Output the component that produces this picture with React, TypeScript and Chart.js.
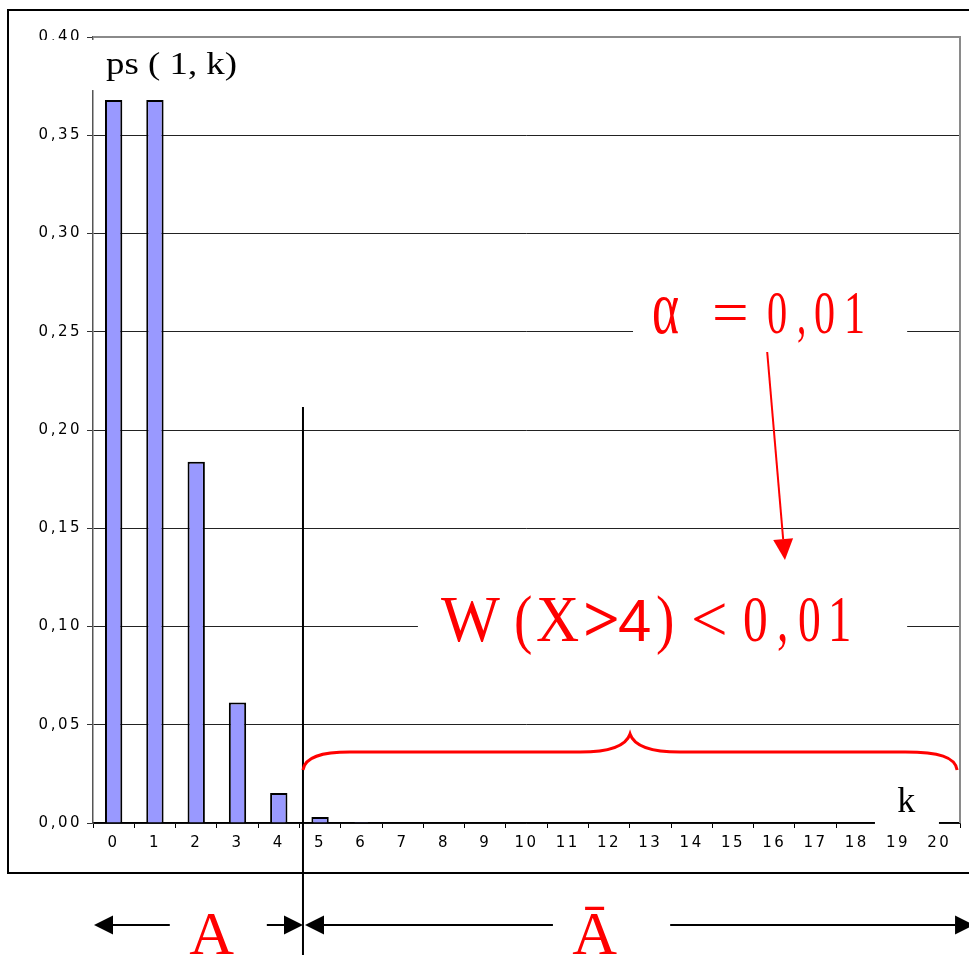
import React, { useEffect, useRef } from "react";
import { Chart, registerables } from "chart.js";

Chart.register(...registerables);

// ---- data ----
const categories = [
  "0", "1", "2", "3", "4", "5", "6", "7", "8", "9", "10",
  "11", "12", "13", "14", "15", "16", "17", "18", "19", "20",
];
const probabilities = [
  0.3679, 0.3679, 0.1839, 0.0613, 0.0153, 0.0031, 0.0005, 0, 0, 0, 0,
  0, 0, 0, 0, 0, 0, 0, 0, 0, 0,
];
const yMin = 0;
const yMax = 0.4;
const yStep = 0.05;

// ---- annotation anchors (category index, probability) ----
const CUT = 4.586; // boundary between A and not-A
const CUT_TOP = 0.2117;
const BRACE_END = 0.027;
const BRACE_FLAT = 0.0361;
const BRACE_TIP = 0.0453;
const BRACE_RIGHT = 20.43;

const SERIF = '"Liberation Serif", "Times New Roman", serif';
const SANS = '"Liberation Sans", Arial, sans-serif';

type Piece = [string, number, string, number];

const alphaRun: Piece[] = [
  ["α", -2, `76px ${SERIF}`, 0.68],
  ["=", 58, `62px ${SERIF}`, 1.05],
  ["0", 113, `62px ${SERIF}`, 0.65],
  [",", 143, `62px ${SERIF}`, 0.6],
  ["0", 160, `62px ${SERIF}`, 0.68],
  ["1", 190, `62px ${SERIF}`, 0.68],
];

const wRun: Piece[] = [
  ["W", 0, `65px ${SERIF}`, 0.96],
  ["(", 73, `65px ${SERIF}`, 0.85],
  ["X", 95, `65px ${SERIF}`, 0.92],
  [">", 142, `bold 65px ${SERIF}`, 1.0],
  ["4", 177, `60px ${SANS}`, 1.0],
  [")", 215, `65px ${SERIF}`, 0.85],
  ["<", 250, `65px ${SERIF}`, 1.0],
  ["0", 302, `65px ${SERIF}`, 0.76],
  [",", 336, `65px ${SERIF}`, 0.7],
  ["0", 357, `65px ${SERIF}`, 0.7],
  ["1", 387, `65px ${SERIF}`, 0.72],
];

const fmt = (v: number) => v.toFixed(2).replace(".", ",");

const annotations = {
  id: "annotations",
  beforeDraw(chart: any) {
    (chart.ctx as any).letterSpacing = "2.5px";
  },
  afterDraw(chart: any) {
    const ctx = chart.ctx as CanvasRenderingContext2D;
    (ctx as any).letterSpacing = "0px";
    ctx.save();
    const xs = chart.scales.x;
    const ys = chart.scales.y;
    const X = (i: number) => xs.getPixelForValue(i);
    const Y = (v: number) => ys.getPixelForValue(v);
    const { left, right, top, bottom } = chart.chartArea;
    const H = chart.height;
    const W = chart.width;

    // plot area border (top & right)
    ctx.strokeStyle = "#8a8a8a";
    ctx.lineWidth = 2;
    ctx.beginPath();
    ctx.moveTo(left, top);
    ctx.lineTo(right, top);
    ctx.lineTo(right, bottom);
    ctx.stroke();

    // outer chart frame
    const fL = 8, fT = 10, fB = 873;
    ctx.strokeStyle = "#000";
    ctx.lineWidth = 2;
    ctx.beginPath();
    ctx.moveTo(W, fT);
    ctx.lineTo(fL, fT);
    ctx.lineTo(fL, fB);
    ctx.lineTo(W, fB);
    ctx.stroke();

    // white masks behind labels
    ctx.fillStyle = "#fff";
    const mask = (i1: number, i2: number, v1: number, v2: number) =>
      ctx.fillRect(X(i1), Y(v1), X(i2) - X(i1), Y(v2) - Y(v1));
    mask(-2.03, 3.18, 0.3985, 0.373);
    mask(12.58, 19.22, 0.2712, 0.2346);
    mask(7.37, 19.22, 0.1186, 0.0768);
    mask(18.44, 19.99, 0.0219, -0.0046);

    // ps(1,k) label
    ctx.fillStyle = "#000";
    ctx.textAlign = "left";
    ctx.textBaseline = "alphabetic";
    ctx.font = `31px ${SERIF}`;
    {
      const t = "ps ( 1, k)";
      const w = ctx.measureText(t).width;
      ctx.save();
      ctx.translate(X(-0.185), Y(0.3812));
      ctx.scale(131 / w, 1);
      ctx.fillText(t, 0, 0);
      ctx.restore();
    }
    // k label
    ctx.font = `36px ${SERIF}`;
    ctx.fillText("k", X(18.98), Y(0.0056));

    // cut line
    ctx.strokeStyle = "#000";
    ctx.lineWidth = 2;
    ctx.beginPath();
    ctx.moveTo(X(CUT), Y(CUT_TOP));
    ctx.lineTo(X(CUT), H);
    ctx.stroke();

    // brace
    const x1 = X(CUT);
    const x2 = X(BRACE_RIGHT);
    const mid = (x1 + x2) / 2;
    const yE = Y(BRACE_END);
    const yF = Y(BRACE_FLAT);
    const yT = Y(BRACE_TIP);
    ctx.strokeStyle = "#ff0000";
    ctx.lineWidth = 3;
    ctx.beginPath();
    ctx.moveTo(x1, yE);
    ctx.bezierCurveTo(x1 + 2, yF + 5, x1 + 18, yF, x1 + 47, yF);
    ctx.lineTo(mid - 50, yF);
    ctx.bezierCurveTo(mid - 20, yF, mid - 4, yF - 6, mid, yT);
    ctx.bezierCurveTo(mid + 4, yF - 6, mid + 20, yF, mid + 50, yF);
    ctx.lineTo(x2 - 52, yF);
    ctx.bezierCurveTo(x2 - 18, yF, x2 - 2, yF + 5, x2, yE);
    ctx.stroke();

    // red arrow
    {
      const ax = X(15.83), ay = Y(0.2397);
      const bx = X(16.26), by = Y(0.1338);
      const ang = Math.atan2(by - ay, bx - ax);
      const hl = 21, hw = 10;
      const bx0 = bx - hl * Math.cos(ang);
      const by0 = by - hl * Math.sin(ang);
      ctx.strokeStyle = "#ff0000";
      ctx.fillStyle = "#ff0000";
      ctx.lineWidth = 2;
      ctx.beginPath();
      ctx.moveTo(ax, ay);
      ctx.lineTo(bx0, by0);
      ctx.stroke();
      ctx.beginPath();
      ctx.moveTo(bx, by);
      ctx.lineTo(bx0 + hw * Math.sin(ang), by0 - hw * Math.cos(ang));
      ctx.lineTo(bx0 - hw * Math.sin(ang), by0 + hw * Math.cos(ang));
      ctx.closePath();
      ctx.fill();
    }

    // red text runs
    const run = (x0: number, base: number, pieces: Piece[]) => {
      ctx.fillStyle = "#ff0000";
      for (const [t, dx, f, sx] of pieces) {
        ctx.save();
        ctx.font = f;
        ctx.translate(x0 + dx, base);
        ctx.scale(sx, 1);
        ctx.fillText(t, 0, 0);
        ctx.restore();
      }
    };
    run(X(13.09), Y(0.2494), alphaRun);
    run(X(7.93), Y(0.0926), wRun);

    // bottom arrows
    const ya = Y(-0.0519);
    ctx.strokeStyle = "#000";
    ctx.fillStyle = "#000";
    ctx.lineWidth = 2;
    const arrow = (tail: number, tip: number) => {
      const dir = tip > tail ? 1 : -1;
      const hl = 19, hw = 9.5;
      ctx.beginPath();
      ctx.moveTo(tail, ya);
      ctx.lineTo(tip - dir * hl, ya);
      ctx.stroke();
      ctx.beginPath();
      ctx.moveTo(tip, ya);
      ctx.lineTo(tip - dir * hl, ya - hw);
      ctx.lineTo(tip - dir * hl, ya + hw);
      ctx.closePath();
      ctx.fill();
    };
    arrow(X(1.36), X(-0.476));
    arrow(X(3.71), X(CUT));
    arrow(X(10.64), X(CUT) + 2);
    arrow(X(13.48), X(20.84));

    ctx.fillStyle = "#ff0000";
    ctx.font = `62px ${SERIF}`;
    ctx.fillText("A", X(1.83), Y(-0.0667));
    ctx.fillText("Ā", X(11.11), Y(-0.0667));

    ctx.restore();
  },
};

export default function App() {
  const ref = useRef<HTMLCanvasElement | null>(null);

  useEffect(() => {
    if (!ref.current) return;
    const chart = new Chart(ref.current, {
      type: "bar",
      data: {
        labels: categories,
        datasets: [
          {
            data: probabilities,
            backgroundColor: "#9999FF",
            borderColor: "#000000",
            borderWidth: 2,
            barPercentage: 0.42,
            categoryPercentage: 1,
          },
        ],
      },
      options: {
        animation: false,
        responsive: true,
        maintainAspectRatio: false,
        layout: { padding: { left: 0, top: 37, right: 9, bottom: 0 } },
        plugins: {
          legend: { display: false },
          tooltip: { enabled: false },
        },
        scales: {
          x: {
            type: "category",
            offset: true,
            grid: {
              display: true,
              drawOnChartArea: false,
              offset: true,
              tickLength: 5,
              color: "#000",
              lineWidth: 1,
            },
            border: { display: true, color: "#000", width: 1.5 },
            ticks: {
              color: "#000",
              font: { family: "DejaVu Sans", size: 15 },
              padding: 6,
              maxRotation: 0,
              autoSkip: false,
            },
            afterFit: (s: any) => {
              s.height = 132;
            },
          },
          y: {
            min: yMin,
            max: yMax,
            ticks: {
              stepSize: yStep,
              callback: (v: any) => fmt(Number(v)),
              color: "#000",
              font: { family: "DejaVu Sans", size: 15 },
              padding: 5,
            },
            grid: {
              color: "#222",
              lineWidth: 1,
              tickLength: 6,
              tickColor: "#333",
            },
            border: { display: true, color: "#555", width: 1.5 },
            afterFit: (s: any) => {
              s.width = 93;
            },
          },
        },
      },
      plugins: [annotations],
    });
    return () => chart.destroy();
  }, []);

  return (
    <div style={{ position: "absolute", left: 0, top: 0, width: 969, height: 955, background: "#fff" }}>
      <canvas ref={ref} />
    </div>
  );
}
